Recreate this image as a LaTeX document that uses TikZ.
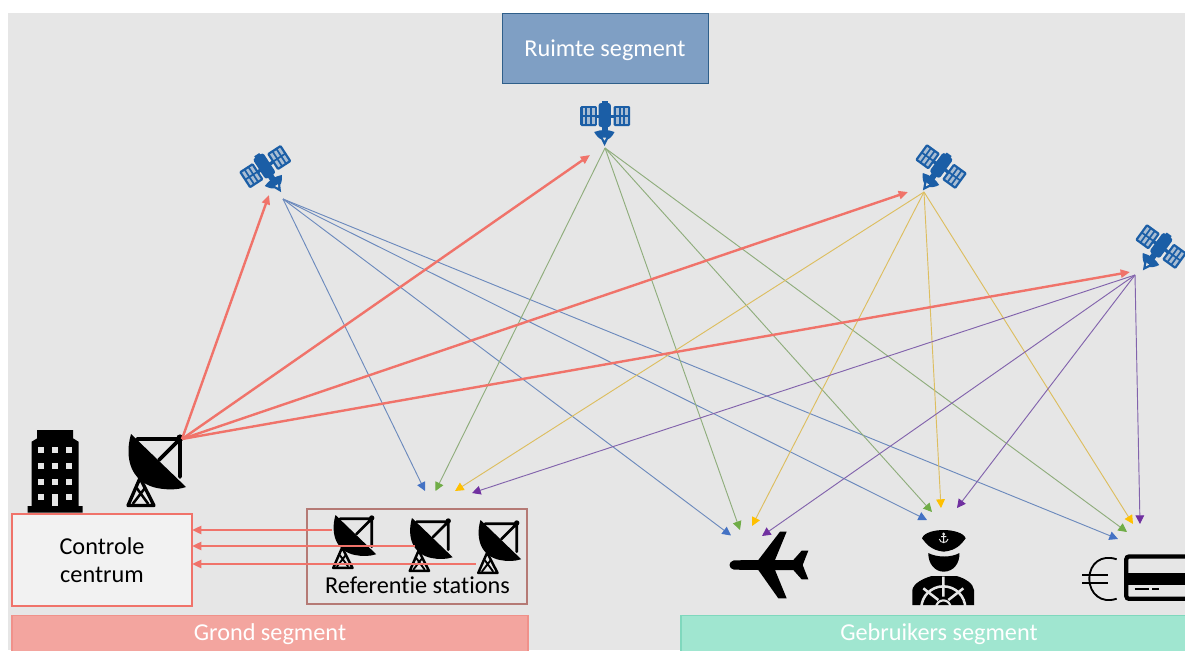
\documentclass[tikz,border=0pt]{standalone}
\usepackage{fontspec}
\setmainfont[Ligatures=NoCommon]{Carlito}
\usetikzlibrary{arrows.meta}
\definecolor{bgc}{HTML}{E6E6E6}
\definecolor{redl}{HTML}{F0736A}
\definecolor{satb}{HTML}{1B5EA6}
\definecolor{ruimtef}{HTML}{7F9FC4}
\definecolor{ruimted}{HTML}{2F5F8A}
\definecolor{ctrlf}{HTML}{F2F2F2}
\definecolor{refd}{HTML}{B57A75}
\definecolor{grondf}{HTML}{F3A59F}
\definecolor{grondd}{HTML}{F0918A}
\definecolor{gebrf}{HTML}{A0E6D0}
\definecolor{gebrd}{HTML}{7FD8BD}
\definecolor{bl}{HTML}{6C8ABD}
\definecolor{blt}{HTML}{4472C4}
\definecolor{gl}{HTML}{8FAD7C}
\definecolor{glt}{HTML}{70AD47}
\definecolor{yl}{HTML}{DDBE5F}
\definecolor{ylt}{HTML}{FFC000}
\definecolor{pl}{HTML}{8263AC}
\definecolor{plt}{HTML}{7030A0}
\def\dlw{1}
\tikzset{
  lbl/.style={font=\fontsize{18.2pt}{21pt}\selectfont,inner sep=0pt,align=center},
  seg/.style={rectangle,inner sep=0pt,font=\fontsize{18.2pt}{21pt}\selectfont,text=white},
  redarr/.style={draw=redl,line width=1.8pt,-{Triangle[length=7pt,width=6pt,fill=redl]}},
  thin arrow/.style n args={2}{draw=#1,line width=.7pt,-{Triangle[length=6.5pt,width=6.5pt,fill=#2,color=#2]}},
  bluearr/.style={thin arrow={bl}{blt}},
  greenarr/.style={thin arrow={gl}{glt}},
  yelarr/.style={thin arrow={yl}{ylt}},
  purarr/.style={thin arrow={pl}{plt}},
  sat/.pic={
    \begin{scope}[scale=1/3]
      \fill[satb,rounded corners=2pt] (-18,-57) rectangle (19,15);
      \fill[satb] (-9,-62) rectangle (9,-52);
      \fill[satb] (-9,10) rectangle (9,32);
      \fill[satb] (-28,-22) rectangle (28,-12);
      \foreach \sx in {-73,27}{
        \fill[satb,rounded corners=1pt] (\sx,-48) rectangle ++(50,60);
        \foreach \cx in {7,21,35}{\foreach \ry in {-41,-15}{
          \fill[satb!30!bgc] (\sx+\cx,\ry) rectangle ++(8,20);
        }}
      }
      \fill[satb] (-31,30) .. controls (-10,22) and (10,22) .. (30,30) .. controls (23,44) and (15,50) .. (10,52) -- (0,72) -- (-10,52) .. controls (-15,50) and (-23,44) .. (-31,30) -- cycle;
      \fill[bgc] (-5,47) -- (5,47) -- (0,56) -- cycle;
    \end{scope}
  },
  dish/.pic={
    \draw[black,line width=\dlw*2.5pt,line join=round,line cap=round] (11,44) -- (-1,71.5) -- (25,71.5) -- cycle;
    \draw[black,line width=\dlw*1.9pt] (7.7,54) -- (19.3,70) (16,54) -- (3.7,70);
    \fill[black] (2,0) .. controls (-2,14) and (-1,26) .. (3,35) .. controls (8,46) and (18,52) .. (28,54) .. controls (38,56) and (48,56) .. (57,53) -- cycle;
    \draw[black,line width=\dlw*2.7pt,line cap=round] (8,5) -- (51,5) -- (51,43) (51,5) -- (30,26);
    \fill[black] (51,4) circle (3.6);
  },
}
\begin{document}
\begin{tikzpicture}[x=.75pt,y=-.75pt]
\useasboundingbox (0,0) rectangle (1185,650);
\clip (0,0) rectangle (1185,650);
\fill[white] (0,0) rectangle (1185,650);
\fill[bgc] (8,13) rectangle (1185,650);

% boxes
\node[rectangle,inner sep=0pt,fill=ruimtef,draw=ruimted,line width=.7pt,minimum width=154.5pt,minimum height=52.5pt] (ruimte) at (605,48) {};
\node[seg] (ruimtelabel) at (605,50) {Ruimte segment};
\node[rectangle,inner sep=0pt,fill=ctrlf,draw=redl,line width=.8pt,minimum width=135pt,minimum height=69pt] (ctrl) at (102,560) {};
\node[lbl] (ctrllabel) at (102,560) {Controle\\[0pt]centrum};
\node[rectangle,inner sep=0pt,draw=refd,line width=.9pt,minimum width=165pt,minimum height=71.25pt] (refbox) at (417,556.5) {};
\node[lbl] (reflabel) at (417.5,585) {Referentie stations};
\node[rectangle,inner sep=0pt,fill=grondf,draw=grondd,line width=.8pt,minimum width=387pt,minimum height=27pt] (grond) at (270,633.5) {};
\node[seg] (grondlabel) at (270,634.5) {Grond segment};
\node[rectangle,inner sep=0pt,fill=gebrf,draw=gebrd,line width=.8pt,minimum width=387pt,minimum height=27pt] (gebr) at (939,633.5) {};
\node[seg] (gebrlabel) at (939,634.5) {Gebruikers segment};

% satellites
\pic at (604.5,122) {sat};
\pic[rotate=33] at (268,172) {sat};
\pic[rotate=-36] at (937,171) {sat};
\pic[rotate=-36] at (1157,251) {sat};

% building
\begin{scope}[shift={(0,420)},x=.2583pt,y=-.25pt]
  \fill[black] (80,278) -- (80,258) -- (92,258) -- (92,65) -- (108,55) -- (108,30) -- (212,30) -- (212,55) -- (228,65) -- (228,258) -- (240,258) -- (240,278) -- cycle;
  \foreach \wy in {90,137,185}{\foreach \wx in {120,160,200}{\fill[bgc] (\wx-9,\wy-9) rectangle (\wx+9,\wy+9);}}
  \foreach \wx in {120,200}{\fill[bgc] (\wx-9,223) rectangle (\wx+9,241);}
  \fill[bgc] (152,223) rectangle (168,258);
\end{scope}

% dishes
\pic at (129,434) {dish};
\begin{scope}
\def\dlw{.74}
\pic[scale=.74] at (334,515) {dish};
\pic[scale=.74] at (410.5,518) {dish};
\pic[scale=.74] at (479,520) {dish};
\end{scope}

% plane
\begin{scope}[shift={(700,480)},x=.25pt,y=-.25pt]
  \fill[black] (102,241) -- (175,240) -- (240,155) -- (260,155) -- (225,240) -- (280,240) -- (305,212) -- (325,212) -- (308,255) -- (325,298) -- (305,298) -- (280,270) -- (225,270) -- (260,355) -- (235,355) -- (175,270) -- (102,269) .. controls (84,266) and (84,244) .. (102,241) -- cycle;
\end{scope}

% captain
\begin{scope}[shift={(900,525)},x=.25pt,y=-.25pt]
  \fill[black] (66,40) .. controls (72,22) and (105,15) .. (131,15) .. controls (160,15) and (192,24) .. (197,40) .. controls (185,55) and (172,76) .. (131,80) .. controls (92,76) and (78,55) .. (66,40) -- cycle;
  \fill[black] (85,84) .. controls (110,98) and (155,98) .. (178,84) .. controls (180,115) and (160,140) .. (131,140) .. controls (104,140) and (84,115) .. (85,84) -- cycle;
  \fill[black] (37,240) -- (37,195) .. controls (40,175) and (70,160) .. (95,153) -- (170,153) .. controls (195,160) and (220,175) .. (222,195) -- (222,240) -- cycle;
  \begin{scope}
    \clip (37,153) rectangle (222,240);
    \draw[bgc,line width=1.9pt] (130,250) circle (66);
    \draw[bgc,line width=1.9pt] (130,155) -- (130,215) (70,190) -- (115,225) (190,190) -- (145,225);
    \draw[bgc,line width=1.6pt] (130,248) circle (22);
  \end{scope}
  \draw[bgc,line width=.7pt] (131,30) -- (131,54) (118,42) .. controls (120,56) and (142,56) .. (144,42) (123,35) -- (139,35);
  \draw[bgc,line width=.6pt] (131,27) circle (3);
\end{scope}

% euro and card
\begin{scope}[shift={(700,480)},x=.25pt,y=-.25pt]
  \draw[black,line width=1.4pt] (1250,238) .. controls (1205,222) and (1168,250) .. (1168,296) .. controls (1168,342) and (1205,372) .. (1250,356);
  \draw[black,line width=1.6pt] (1147,285) -- (1223,285) (1147,308) -- (1223,308);
  \draw[black,line width=3.2pt,rounded corners=2pt] (1279,229.5) rectangle (1560,356.5);
  \fill[black] (1279,280) rectangle (1560,315);
  \draw[black,line width=1.4pt] (1304,328) -- (1346,328) (1356,328) -- (1376,328);
\end{scope}

% named end points
\coordinate (dish main) at (182,439);
\coordinate (s1) at (283,199);
\coordinate (s2) at (605,148);
\coordinate (s3) at (924,192);
\coordinate (s4) at (1135,275);
\coordinate (r1) at (269,195);
\coordinate (r2) at (590,155);
\coordinate (r3) at (908,192);
\coordinate (r4) at (1130,272);
\coordinate (g1) at (425,491);
\coordinate (g2) at (435.5,491);
\coordinate (g3) at (455,491);
\coordinate (g4) at (472,493);
\coordinate (p1) at (731,535.5);
\coordinate (p2) at (740,530);
\coordinate (p3) at (752,526);
\coordinate (p4) at (762,536);
\coordinate (c1) at (927,520);
\coordinate (c2) at (932,512);
\coordinate (c3) at (941,508);
\coordinate (c4) at (957,508);
\coordinate (k1) at (1118,539);
\coordinate (k2) at (1127,532);
\coordinate (k3) at (1133,524);
\coordinate (k4) at (1140,524);
\coordinate (st1) at (332,530);
\coordinate (st2) at (415,546);
\coordinate (st3) at (476,564);
\coordinate (ce1) at (192,530);
\coordinate (ce2) at (192,546);
\coordinate (ce3) at (192,564);

% connectors
\foreach \t in {g1,p1,c1,k1}{\draw[bluearr] (s1) -- (\t);}
\foreach \t in {g2,p2,c2,k2}{\draw[greenarr] (s2) -- (\t);}
\foreach \t in {g3,p3,c3,k3}{\draw[yelarr] (s3) -- (\t);}
\foreach \t in {g4,p4,c4,k4}{\draw[purarr] (s4) -- (\t);}
\foreach \t in {r1,r2,r3,r4}{\draw[redarr] (dish main) -- (\t);}
\draw[redarr] (st1) -- (ce1);
\draw[redarr] (st2) -- (ce2);
\draw[redarr] (st3) -- (ce3);
\end{tikzpicture}
\end{document}
